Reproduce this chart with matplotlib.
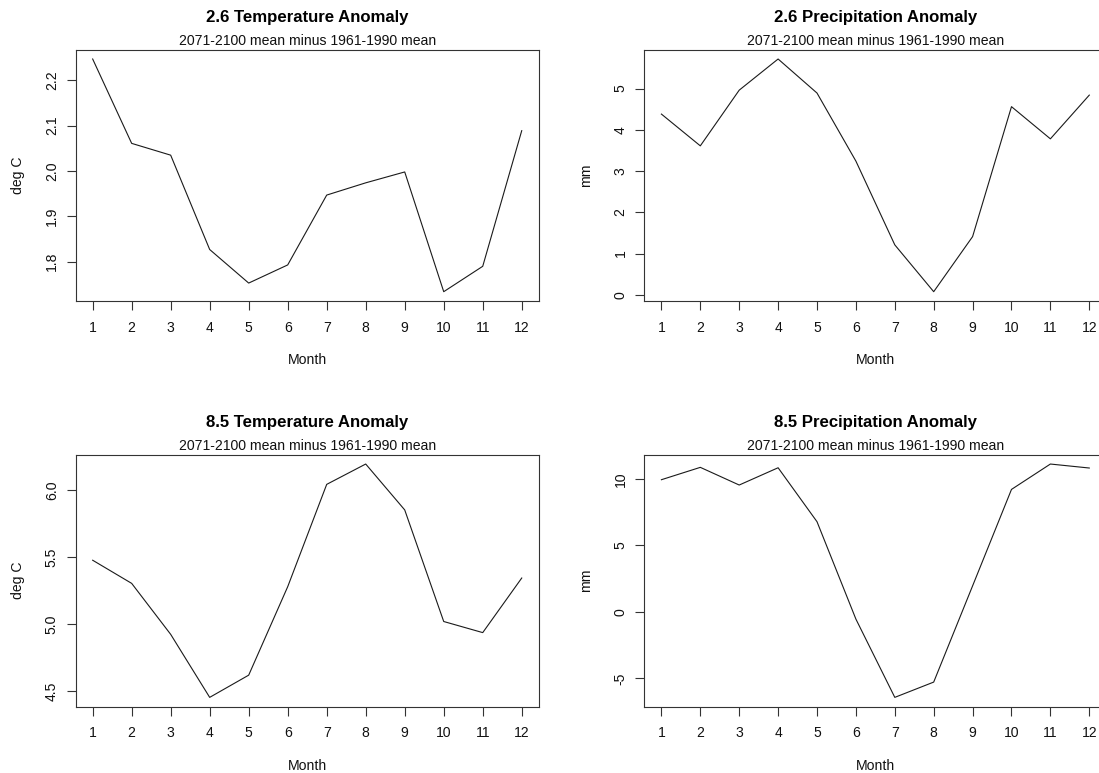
import matplotlib
matplotlib.use("Agg")
import matplotlib.pyplot as plt

plt.rcParams['font.family'] = ['Liberation Sans', 'DejaVu Sans']

months = list(range(1, 13))
month_labels = [str(m) for m in months]

temp26 = [2.247, 2.061, 2.035, 1.827, 1.753, 1.793, 1.947, 1.974, 1.998, 1.734, 1.790, 2.089]
prec26 = [4.38, 3.61, 4.96, 5.715, 4.89, 3.24, 1.21, 0.075, 1.41, 4.56, 3.78, 4.84]
temp85 = [5.478, 5.305, 4.924, 4.453, 4.619, 5.28, 6.045, 6.197, 5.854, 5.02, 4.937, 5.345]
prec85 = [9.95, 10.88, 9.55, 10.85, 6.79, -0.54, -6.43, -5.28, 1.96, 9.22, 11.13, 10.83]

yt_temp26 = [1.8, 1.9, 2.0, 2.1, 2.2]
yl_temp26 = ["1.8", "1.9", "2.0", "2.1", "2.2"]
yt_prec26 = [0, 1, 2, 3, 4, 5]
yl_prec26 = ["0", "1", "2", "3", "4", "5"]
yt_temp85 = [4.5, 5.0, 5.5, 6.0]
yl_temp85 = ["4.5", "5.0", "5.5", "6.0"]
yt_prec85 = [-5, 0, 5, 10]
yl_prec85 = ["-5", "0", "5", "10"]

titles = ["2.6 Temperature Anomaly", "2.6 Precipitation Anomaly",
          "8.5 Temperature Anomaly", "8.5 Precipitation Anomaly"]
subtitle = "2071-2100 mean minus 1961-1990 mean"
ylabels = ["deg C", "mm", "deg C", "mm"]
xlabel = "Month"

W, H = 1099, 773
fig = plt.figure(figsize=(W / 100, H / 100), dpi=100)

# panel boxes in pixels: (left, top, right, bottom)
boxes = [(75.5, 49.7, 538.9, 301.0),
         (644.3, 49.7, 1106.4, 301.0),
         (75.5, 454.7, 538.9, 706.7),
         (644.3, 454.7, 1106.4, 706.7)]

series = [temp26, prec26, temp85, prec85]
yticks = [yt_temp26, yt_prec26, yt_temp85, yt_prec85]
ylabs = [yl_temp26, yl_prec26, yl_temp85, yl_prec85]

base = 10.08
for i in range(4):
    l, t, r, b = boxes[i]
    ax = fig.add_axes([l / W, (H - b) / H, (r - l) / W, (b - t) / H])
    ax.plot(months, series[i], color='#1a1a1a', lw=0.8)
    ax.margins(x=0.04, y=0.04)
    ax.set_xticks(months)
    ax.set_xticklabels(month_labels)
    ax.set_yticks(yticks[i])
    ax.set_yticklabels(ylabs[i], rotation=90, va='center', ha='right')
    for s in ax.spines.values():
        s.set_linewidth(0.8)
        s.set_color('#333333')
    ax.tick_params(axis='both', direction='out', length=6.2, width=0.8,
                   color='#333333', labelsize=base, labelcolor='#111111')
    ax.tick_params(axis='x', pad=8.0)
    ax.tick_params(axis='y', pad=5.8)
    hpx = b - t
    wpx = r - l
    ax.set_ylabel(ylabels[i], fontsize=base, va='center', color='#111111')
    ax.yaxis.set_label_coords(-(75.5 - 17.6) / wpx, 0.5)
    ax.set_xlabel(xlabel, fontsize=base, va='center', color='#111111')
    ax.xaxis.set_label_coords(0.5, -(360.0 - 301.0) / hpx)
    ax.text(0.5, 1 + (301 - 21.6 - 251.3) / hpx,
            titles[i], transform=ax.transAxes, ha='center', va='baseline',
            fontsize=base * 1.2, fontweight='bold', color='black')
    ax.text(0.5, 1 + (301 - 44.7 - 251.3) / hpx, subtitle, transform=ax.transAxes,
            ha='center', va='baseline', fontsize=base, color='#111111')

fig.savefig("out.png", dpi=100)
